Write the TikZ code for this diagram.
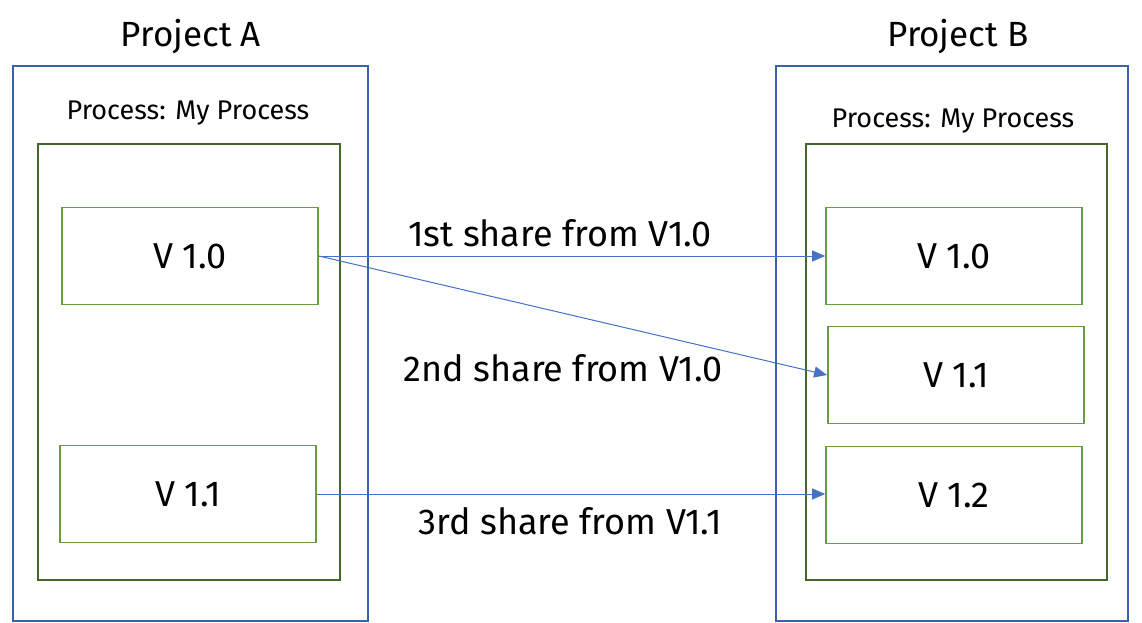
\documentclass[tikz,border=0pt]{standalone}
\usepackage{fontspec}
\setmainfont{Fira Sans}
\usetikzlibrary{arrows.meta}
\definecolor{projblue}{HTML}{3A62AA}
\definecolor{procgreen}{HTML}{43682A}
\definecolor{vergreen}{HTML}{6A9D3F}
\definecolor{arrowblue}{HTML}{4472C4}
\tikzset{
  projbox/.style={draw=projblue, line width=1.8pt},
  procbox/.style={draw=procgreen, line width=1.8pt},
  verbox/.style={draw=vergreen, line width=1.8pt, font=\fontsize{36}{40}\selectfont},
  titletext/.style={font=\fontsize{35}{40}\selectfont},
  proctext/.style={font=\fontsize{27}{30}\selectfont},
  labeltext/.style={font=\fontsize{36}{40}\selectfont},
  share/.style={draw=arrowblue, line width=1pt, -{Triangle[length=13pt,width=11pt]}},
}
\begin{document}
\begin{tikzpicture}[x=1pt,y=-1pt]
\useasboundingbox (0,0) rectangle (1142,623);
% Project A
\node[titletext] (tA) at (191,37) {Project A};
\draw[projbox] (13,66) rectangle (368,621);
\node[proctext] (pA) at (188,113) {Process: My Process};
\draw[procbox] (38,144) rectangle (340,580);
\node[verbox, minimum width=256pt, minimum height=97pt] (a10) at (190,256) {V 1.0};
\node[verbox, minimum width=256pt, minimum height=97pt] (a11) at (188,494) {V 1.1};
% Project B
\node[titletext] (tB) at (958,37) {Project B};
\draw[projbox] (776,66) rectangle (1128,621);
\node[proctext] (pB) at (953,121) {Process: My Process};
\draw[procbox] (806,144) rectangle (1107,580);
\node[verbox, minimum width=256pt, minimum height=97pt] (b10) at (954,256) {V 1.0};
\node[verbox, minimum width=256pt, minimum height=97pt] (b11) at (956,375) {V 1.1};
\node[verbox, minimum width=256pt, minimum height=97pt] (b12) at (954,495) {V 1.2};
% shares
\draw[share] (a10.east) -- (b10.west);
\draw[share] (a10.east) -- (b11.west);
\draw[share] (a11.east) -- (a11.east -| b12.west);
\node[labeltext] (l1) at (560,233) {1st share from V1.0};
\node[labeltext] (l2) at (563,368) {2nd share from V1.0};
\node[labeltext] (l3) at (570,521) {3rd share from V1.1};
\end{tikzpicture}
\end{document}
